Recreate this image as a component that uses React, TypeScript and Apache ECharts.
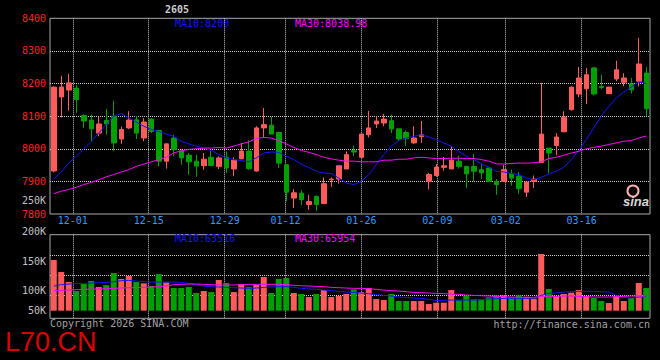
import React, { useEffect, useRef } from 'react';
import * as echarts from 'echarts';

const dates = ['11-26','11-27','11-28','12-01','12-02','12-03','12-04','12-05','12-08','12-09','12-10','12-11','12-12','12-15','12-16','12-17','12-18','12-19','12-22','12-23','12-24','12-25','12-26','12-29','12-30','12-31','01-05','01-06','01-07','01-08','01-09','01-12','01-13','01-14','01-15','01-16','01-19','01-20','01-21','01-22','01-23','01-26','01-27','01-28','01-29','01-30','02-02','02-03','02-04','02-05','02-06','02-09','02-10','02-11','02-12','02-13','02-24','02-25','02-26','02-27','03-02','03-03','03-04','03-05','03-06','03-09','03-10','03-11','03-12','03-13','03-16','03-17','03-18','03-19','03-20','03-23','03-24','03-25','03-26','03-27'];

const labelDates = ['12-01','12-15','12-29','01-12','01-26','02-09','03-02','03-16'];

const openP = [7932,8159,8180,8186,8102,8088,8048,8087,8100,8030,8064,8089,8033,8091,8056,7962,8033,7994,7980,7962,7948,7974,7946,7974,7938,7969,7993,7932,8064,8072,8050,7951,7849,7864,7829,7854,7832,7905,7907,7938,7994,7974,8043,8076,8079,8086,8061,8050,8018,8037,7900,7918,7943,7938,7962,7946,7946,7936,7941,7900,7900,7924,7916,7867,7900,7958,8002,8010,8052,8120,8168,8184,8248,8191,8169,8214,8204,8199,8207,8232];
const closeP = [8189,8189,8202,8151,8085,8061,8076,8076,8018,8059,8088,8048,8082,8053,7962,8015,7997,7972,7960,7947,7968,7949,7972,7941,7965,7993,7939,8064,8074,8045,7956,7867,7865,7844,7838,7829,7893,7907,7948,7982,7990,8045,8064,8085,8091,8061,8030,8031,8033,8043,7921,7944,7948,7965,7946,7923,7931,7926,7900,7890,7936,7910,7878,7898,7907,8045,7987,8036,8097,8189,8217,8227,8168,8188,8189,8242,8217,8181,8260,8123];
const lowP = [7928,8096,8117,8110,8064,8021,8038,8043,7994,8015,8060,8030,8023,8048,7946,7939,7977,7951,7921,7914,7936,7946,7938,7926,7916,7969,7936,7930,8035,8045,7941,7839,7818,7827,7813,7810,7830,7883,7893,7938,7977,7972,8035,8064,8069,8048,8025,8008,8015,8018,7875,7914,7933,7938,7939,7880,7900,7907,7898,7859,7898,7887,7862,7852,7880,7958,7926,7980,8052,8117,8158,8137,8163,8183,8168,8207,8192,8169,8191,8100];
const highP = [8191,8224,8230,8196,8106,8105,8098,8122,8147,8068,8115,8100,8094,8093,8058,8016,8043,7997,7987,7982,7987,7994,7977,7992,7974,8018,8026,8069,8125,8098,8052,7951,7876,7873,7859,7857,7912,7912,7948,7992,8010,8046,8116,8100,8107,8105,8061,8056,8069,8085,7926,7953,7975,8008,7979,7948,7984,7953,7943,7907,7950,7936,7929,7899,7918,8202,8002,8048,8115,8191,8251,8248,8251,8227,8190,8270,8232,8217,8340,8250];

const ma10 = [7907,7929,7956,7977,8000,8023,8048,8074,8100,8108,8094,8082,8069,8059,8053,8045,8038,8023,8015,8008,8002,7995,7982,7972,7967,7964,7960,7972,7987,7990,7989,7977,7967,7953,7943,7931,7926,7924,7910,7895,7890,7900,7921,7951,7982,8008,8025,8033,8038,8043,8036,8028,8018,8008,7992,7977,7967,7954,7943,7931,7929,7924,7921,7910,7905,7912,7923,7931,7943,7967,7994,8028,8064,8100,8130,8156,8174,8189,8205,8200];
const ma30 = [7862,7870,7875,7882,7890,7897,7905,7914,7921,7929,7936,7946,7953,7960,7966,7974,7987,7994,7998,8000,8002,8002,8004,8002,8008,8015,8021,8031,8035,8033,8025,8015,8004,7995,7989,7982,7974,7969,7965,7962,7962,7960,7960,7960,7965,7965,7968,7968,7972,7974,7972,7970,7970,7971,7971,7970,7970,7967,7962,7954,7953,7955,7956,7956,7957,7960,7970,7974,7980,7987,7992,8000,8004,8008,8013,8018,8023,8025,8033,8039];

// volume in thousands
const volumeK = [228,174,129,88.5,120,133.5,106.5,115,169.5,142.5,156,129,123,111,165,127.5,102,102,106.5,79.5,88.5,84,138,124.5,84,120,106.5,115.5,151.5,79.5,142.5,147,79.5,75,61.5,75,93,61.5,66,75,96,84,102,52.5,48,75,43.5,43.5,43.5,43.5,30,36,36,93,46.5,66,51,51,60,69,69,60,69,63,54,255,97.5,66,75,81,93,66,57,43.5,34.5,66,43.5,57,124.5,102];
const volMa10K = [111,117,120,121.5,123,124.5,126,127.5,130.5,135,136.5,133.5,130.5,129,129,129,129,127.5,123,117,111,108,106.5,105,103.5,102,100.5,102,105,106.5,108,108,105,100.5,97.5,96,93,90,87,84,82.5,79.5,76.5,72,69,66,61.5,60,57,55.5,51,45,46.5,48,48,48,48,49.5,52.5,54,55.5,55.5,55.5,55.5,55.5,69,78,80,84,85.5,87,87,87,85.5,84,70,60,57,61.5,63.5];
const volMa30K = [90,91.5,93,94.5,96,97.5,97.5,99,100.5,102,103.5,103.5,105,106.5,108,111,117,118.5,120,120,118.5,117,115.5,115.5,115.5,117,118.5,118.5,118.5,118.5,118.5,117,114,112.5,111,109.5,108,105,103.5,102,100.5,100.5,99,96,93,90,88.5,85.5,82.5,81,79.5,78,76.5,75,73.5,70.5,69,67.5,66,64.5,63,61.5,60,60,60,64.5,64.5,64.5,66,66,64.5,63,61.5,61.5,61.5,63,64.5,66,66,66];

const volTickLabels = ['50K', '100K', '150K', '200K', '250K'];
// pixel offsets (from the bottom of the volume panel) where Sina prints the volume labels
const volTickPos = [7.6, 27.6, 57.3, 87.3, 118];
const volGridPos = [23.3, 43.3, 63.3];

const headerTexts = {
  title: '2605',
  ma10: 'MA10:8200',
  ma30: 'MA30:8038.98',
  vma10: 'MA10:63516',
  vma30: 'MA30:65954',
  copyright: 'Copyright 2026 SINA.COM',
  url: 'http://finance.sina.com.cn',
  mark: 'L70.CN',
};

const UP = '#ff5b5b';
const DOWN = '#00a000';
const BLUE = '#1414ff';
const MAGENTA = '#ff00ff';
const MONO = 'DejaVu Sans Mono';

export default function App() {
  const ref = useRef<HTMLDivElement>(null);
  useEffect(() => {
    if (!ref.current) return;
    const chart = echarts.init(ref.current, null, { renderer: 'svg' });
    const gridLine = { show: true, lineStyle: { color: '#c8c8c8', type: [1, 1], width: 1 } };
    const tickIdx = labelDates.map((d) => dates.indexOf(d));
    const kData = dates.map((_, i) => [openP[i], closeP[i], lowP[i], highP[i]]);
    const volData = volumeK.map((v, i) => ({
      value: v,
      itemStyle: { color: closeP[i] >= openP[i] ? UP : DOWN },
    }));
    const nearestLabel = (v: number) => {
      let best = 0;
      for (let i = 1; i < volTickPos.length; i++) {
        if (Math.abs(volTickPos[i] - v) < Math.abs(volTickPos[best] - v)) best = i;
      }
      return volTickLabels[best];
    };
    const option: any = {
      animation: false,
      backgroundColor: '#000000',
      grid: [
        { left: 50, top: 18.3, width: 600, height: 195.7, show: true, borderColor: '#aaaaaa', borderWidth: 1, backgroundColor: 'transparent' },
        { left: 50, top: 234.7, width: 600, height: 83.6, show: true, borderColor: '#aaaaaa', borderWidth: 1, backgroundColor: 'transparent' },
        { left: 50, top: 195, width: 600, height: 123.3, show: false },
      ],
      xAxis: [
        { type: 'category', gridIndex: 0, data: dates, boundaryGap: true, show: false },
        { type: 'category', gridIndex: 1, data: dates, boundaryGap: true, show: false },
        {
          type: 'value', gridIndex: 0, min: 0, max: dates.length - 1, position: 'bottom',
          axisLine: { show: false },
          axisTick: { show: false, customValues: tickIdx },
          splitLine: gridLine,
          axisLabel: {
            customValues: tickIdx,
            formatter: (v: number) => dates[Math.round(v)],
            color: '#3399ff', fontFamily: MONO, fontSize: 10, margin: 1,
          },
        },
        {
          type: 'value', gridIndex: 1, min: 0, max: dates.length - 1,
          axisLine: { show: false },
          axisTick: { show: false, customValues: tickIdx },
          splitLine: gridLine,
          axisLabel: { show: false },
        },
        { type: 'value', gridIndex: 2, min: 0, max: 1, show: false },
      ],
      yAxis: [
        {
          type: 'value', gridIndex: 0, min: 7800, max: 8400, interval: 100,
          axisLine: { show: false }, axisTick: { show: false },
          splitLine: { ...gridLine, showMinLine: false, showMaxLine: false },
          axisLabel: {
            formatter: (v: number) => String(v),
            color: '#ff2020', fontFamily: MONO, fontSize: 10, margin: 4, padding: [0, 0, 4, 0],
          },
        },
        { type: 'value', gridIndex: 1, min: -34.2, max: 342, show: false },
        {
          type: 'value', gridIndex: 1, min: 0, max: 83.6,
          axisLine: { show: false },
          axisTick: { show: false, customValues: volGridPos },
          splitLine: gridLine,
          axisLabel: { show: false },
        },
        {
          type: 'value', gridIndex: 2, min: 0, max: 123.3,
          axisLine: { show: false }, axisTick: { show: false }, splitLine: { show: false },
          axisLabel: {
            customValues: volTickPos,
            formatter: (v: number) => nearestLabel(v),
            color: '#c0c0c0', fontFamily: MONO, fontSize: 10, margin: 4,
          },
        },
      ],
      series: [
        {
          type: 'candlestick', xAxisIndex: 0, yAxisIndex: 0, data: kData, barWidth: 5,
          itemStyle: { color: UP, color0: DOWN, borderColor: UP, borderColor0: DOWN, borderWidth: 1 },
        },
        { type: 'line', xAxisIndex: 0, yAxisIndex: 0, data: ma10, showSymbol: false, symbol: 'none', lineStyle: { color: BLUE, width: 1 } },
        { type: 'line', xAxisIndex: 0, yAxisIndex: 0, data: ma30, showSymbol: false, symbol: 'none', lineStyle: { color: MAGENTA, width: 1 } },
        { type: 'bar', xAxisIndex: 1, yAxisIndex: 1, data: volData, barWidth: 6 },
        { type: 'line', xAxisIndex: 1, yAxisIndex: 1, data: volMa10K, showSymbol: false, symbol: 'none', lineStyle: { color: BLUE, width: 1 } },
        { type: 'line', xAxisIndex: 1, yAxisIndex: 1, data: volMa30K, showSymbol: false, symbol: 'none', lineStyle: { color: MAGENTA, width: 1 } },
      ],
      graphic: [
        { type: 'text', left: 165, top: 4, style: { text: headerTexts.title, fill: '#cccccc', font: 'bold 10px ' + MONO } },
        { type: 'text', x: 175, y: 23.5, style: { text: headerTexts.ma10, fill: BLUE, font: '10px ' + MONO, verticalAlign: 'middle' } },
        { type: 'text', x: 295, y: 23.5, style: { text: headerTexts.ma30, fill: MAGENTA, font: '10px ' + MONO, verticalAlign: 'middle' } },
        { type: 'text', x: 175, y: 238.5, style: { text: headerTexts.vma10, fill: BLUE, font: '10px ' + MONO, verticalAlign: 'middle' } },
        { type: 'text', x: 295, y: 238.5, style: { text: headerTexts.vma30, fill: MAGENTA, font: '10px ' + MONO, verticalAlign: 'middle' } },
        { type: 'text', x: 50, y: 323, style: { text: headerTexts.copyright, fill: '#a0a0a0', font: '10px ' + MONO, verticalAlign: 'middle', lineHeight: 10 } },
        { type: 'text', x: 650, y: 324, style: { text: headerTexts.url, fill: '#a0a0a0', font: '10px ' + MONO, verticalAlign: 'middle', align: 'right', lineHeight: 10 } },
        { type: 'text', x: 5, y: 342, style: { text: headerTexts.mark, fill: '#dd0000', font: '27px "Liberation Sans"', verticalAlign: 'middle', lineHeight: 20 } },
        { type: 'circle', shape: { cx: 633, cy: 191, r: 5.5 }, style: { fill: 'none', stroke: '#ffb0b0', lineWidth: 2 } },
        { type: 'text', x: 636, y: 201, style: { text: 'sina', fill: '#d8d8d8', font: 'italic bold 13px "Liberation Sans"', verticalAlign: 'middle', align: 'center' } },
      ],
    };
    chart.setOption(option);
    return () => chart.dispose();
  }, []);
  return (
    <div
      ref={ref}
      style={{ position: 'fixed', left: 0, top: 0, width: 660, height: 360, background: '#000' }}
    />
  );
}
